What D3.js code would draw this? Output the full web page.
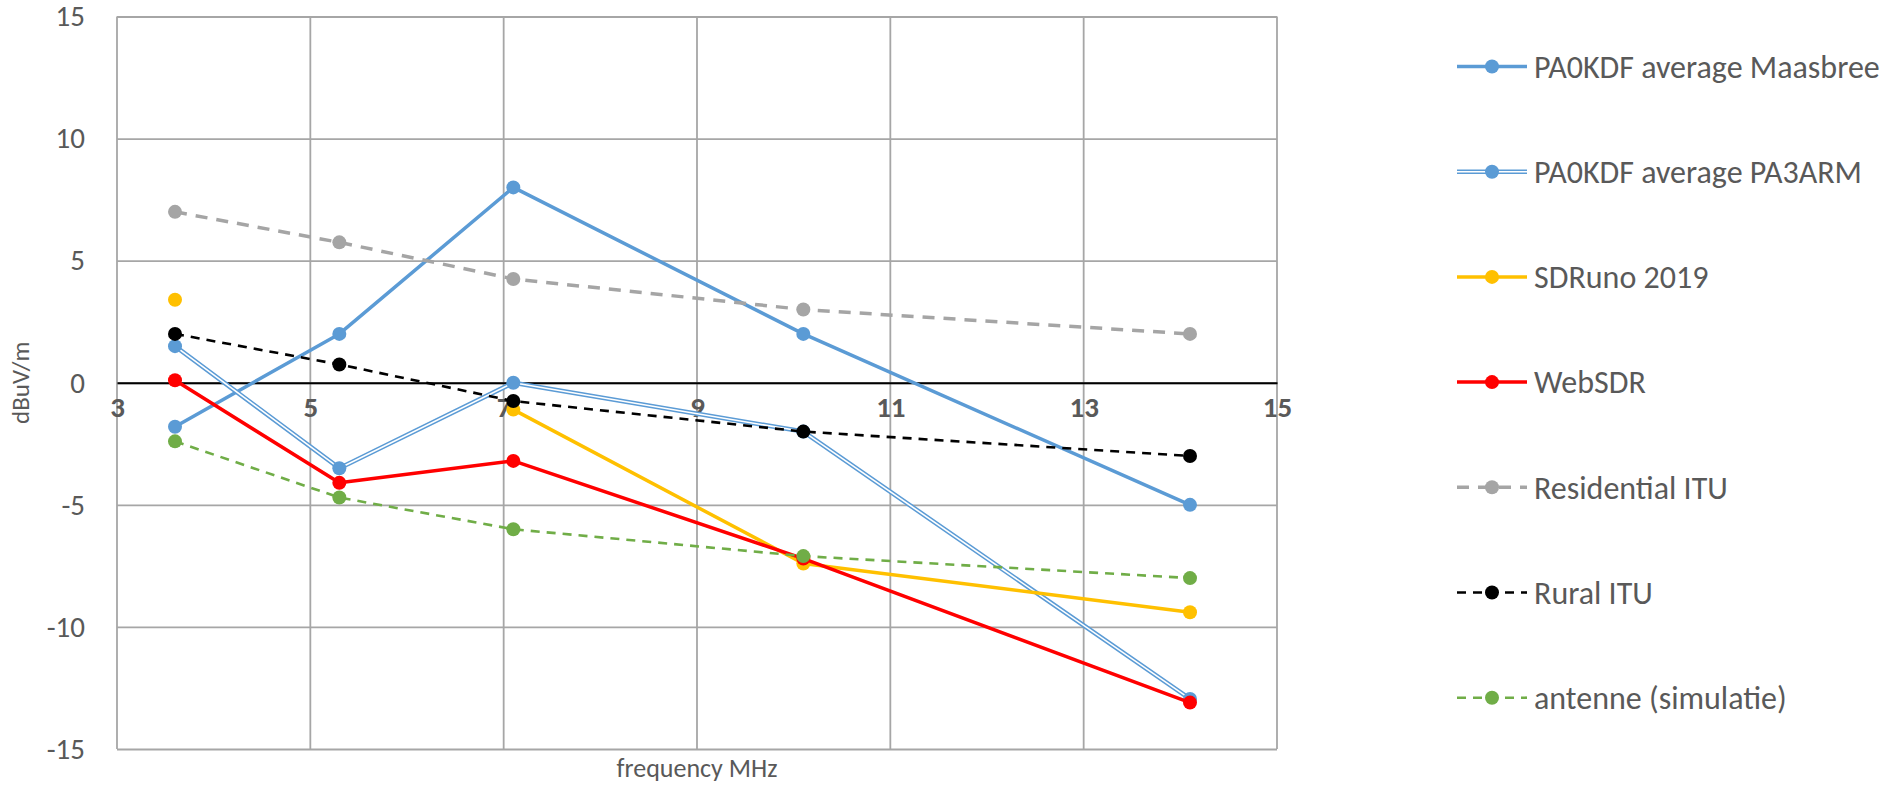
<!DOCTYPE html>
<html>
<head>
<meta charset="utf-8">
<script src="https://cdn.jsdelivr.net/npm/d3@7"></script>
<style>
    body { margin: 0; background: #ffffff; }
    text { font-family: Carlito, Calibri, Lato, sans-serif; fill: #595959; }
</style>
</head>
<body>
<div id="chart"></div>
<script>
// Chart data

var freqs = [3.6, 5.3, 7.1, 10.1, 14.1];

var maasbree = [-1.8, 2.0, 8.0, 2.0, -5.0];
var pa3arm = [1.5, -3.5, 0.0, -2.0, -12.95];
var sdruno = [3.4, null, -1.1, -7.4, -9.4];
var websdr = [0.1, -4.1, -3.2, -7.2, -13.1];
var residential = [7.0, 5.75, 4.25, 3.0, 2.0];
var rural = [2.0, 0.75, -0.75, -2.0, -3.0];
var antenne = [-2.4, -4.7, -6.0, -7.1, -8.0];

var seriesNames = ["PA0KDF average Maasbree", "PA0KDF average PA3ARM", "SDRuno 2019",
    "WebSDR", "Residential ITU", "Rural ITU", "antenne (simulatie)"];

var xTicks = [3, 5, 7, 9, 11, 13, 15];
var yTicks = [-15, -10, -5, 0, 5, 10, 15];

// SVG container size

var svgWidth = 1896;
var svgHeight = 786;

var margin = {
    top: 16.5,
    right: 619,
    bottom: 37,
    left: 117
};

var width = svgWidth - margin.left - margin.right;
var height = svgHeight - margin.top - margin.bottom;

var svg = d3.select("#chart")
    .append("svg")
    .attr("width", svgWidth)
    .attr("height", svgHeight);

var chartGroup = svg.append("g")
    .attr("transform", `translate(${margin.left}, ${margin.top})`);

// Scales

var xLinearScale = d3.scaleLinear()
    .domain([3, 15])
    .range([0, width]);

var yLinearScale = d3.scaleLinear()
    .domain([-15, 15])
    .range([height, 0]);

// Gridlines

var gridColor = "#a6a6a6";

var leftAxis = d3.axisLeft(yLinearScale)
    .tickValues(yTicks)
    .tickSize(-width)
    .tickPadding(32)
    .tickFormat(d => String(d));

var yAxis = chartGroup.append("g")
    .call(leftAxis);
yAxis.select(".domain").remove();
yAxis.selectAll("line")
    .attr("stroke", gridColor)
    .attr("stroke-width", 1.8);
yAxis.selectAll("text")
    .attr("font-size", 29)
    .attr("fill", "#595959")
    .style("font-family", "Carlito, Calibri, Lato, sans-serif");

chartGroup.append("g")
    .selectAll("line")
    .data(xTicks)
    .enter()
    .append("line")
    .attr("x1", d => xLinearScale(d))
    .attr("x2", d => xLinearScale(d))
    .attr("y1", 0)
    .attr("y2", height)
    .attr("stroke", gridColor)
    .attr("stroke-width", 1.8);

// X axis crosses at zero

var bottomAxis = d3.axisBottom(xLinearScale)
    .tickValues(xTicks)
    .tickSize(0)
    .tickPadding(14)
    .tickFormat(d => String(d));

var xAxis = chartGroup.append("g")
    .attr("transform", `translate(0, ${yLinearScale(0)})`)
    .call(bottomAxis);
xAxis.select(".domain")
    .attr("stroke", "#000000")
    .attr("stroke-width", 2);
xAxis.selectAll("text")
    .attr("font-size", 29)
    .attr("font-weight", "bold")
    .attr("fill", "#595959")
    .style("font-family", "Carlito, Calibri, Lato, sans-serif");

// Series

var seriesList = [
    { name: seriesNames[0], values: maasbree, color: "#5b9bd5", width: 3.5, dash: null, double: false },
    { name: seriesNames[1], values: pa3arm, color: "#5b9bd5", width: 4.6, dash: null, double: true },
    { name: seriesNames[2], values: sdruno, color: "#ffc000", width: 3.5, dash: null, double: false },
    { name: seriesNames[3], values: websdr, color: "#ff0000", width: 3.5, dash: null, double: false },
    { name: seriesNames[4], values: residential, color: "#a5a5a5", width: 3.5, dash: "12,9", double: false },
    { name: seriesNames[5], values: rural, color: "#000000", width: 2.6, dash: "9,7", double: false },
    { name: seriesNames[6], values: antenne, color: "#70ad47", width: 2.6, dash: "9,7", double: false }
];

var lineGen = d3.line()
    .defined(d => d.y !== null)
    .x(d => xLinearScale(d.x))
    .y(d => yLinearScale(d.y));

function drawLine(group, s, pathData) {
    var path = group.append("path")
        .attr("d", pathData)
        .attr("fill", "none")
        .attr("stroke", s.color)
        .attr("stroke-width", s.width)
        .attr("stroke-linejoin", "round");
    if (s.dash) path.attr("stroke-dasharray", s.dash);
    if (s.double) {
        group.append("path")
            .attr("d", pathData)
            .attr("fill", "none")
            .attr("stroke", "#ffffff")
            .attr("stroke-width", 1.6)
            .attr("stroke-linejoin", "round");
    }
}

seriesList.forEach(function (s) {
    var points = freqs.map((f, i) => ({ x: f, y: s.values[i] }));
    var g = chartGroup.append("g");
    drawLine(g, s, lineGen(points));
    g.selectAll("circle")
        .data(points.filter(p => p.y !== null))
        .enter()
        .append("circle")
        .attr("cx", d => xLinearScale(d.x))
        .attr("cy", d => yLinearScale(d.y))
        .attr("r", 7)
        .attr("fill", s.color);
});

// Axis titles

svg.append("text")
    .attr("transform", `translate(29, ${margin.top + height / 2}) rotate(-90)`)
    .attr("text-anchor", "middle")
    .attr("font-size", 25)
    .text("dBuV/m");

svg.append("text")
    .attr("x", margin.left + width / 2)
    .attr("y", 777)
    .attr("text-anchor", "middle")
    .attr("font-size", 26)
    .text("frequency MHz");

// Legend

var legendGroup = svg.append("g")
    .attr("transform", "translate(1457, 66.5)");

seriesList.forEach(function (s, i) {
    var item = legendGroup.append("g")
        .attr("transform", `translate(0, ${i * 105.2})`);
    drawLine(item, s, "M0,0L70,0");
    item.append("circle")
        .attr("cx", 35)
        .attr("cy", 0)
        .attr("r", 7)
        .attr("fill", s.color);
    item.append("text")
        .attr("x", 77)
        .attr("y", 0)
        .attr("dy", "0.35em")
        .attr("font-size", 32)
        .text(s.name);
});
</script>
</body>
</html>
